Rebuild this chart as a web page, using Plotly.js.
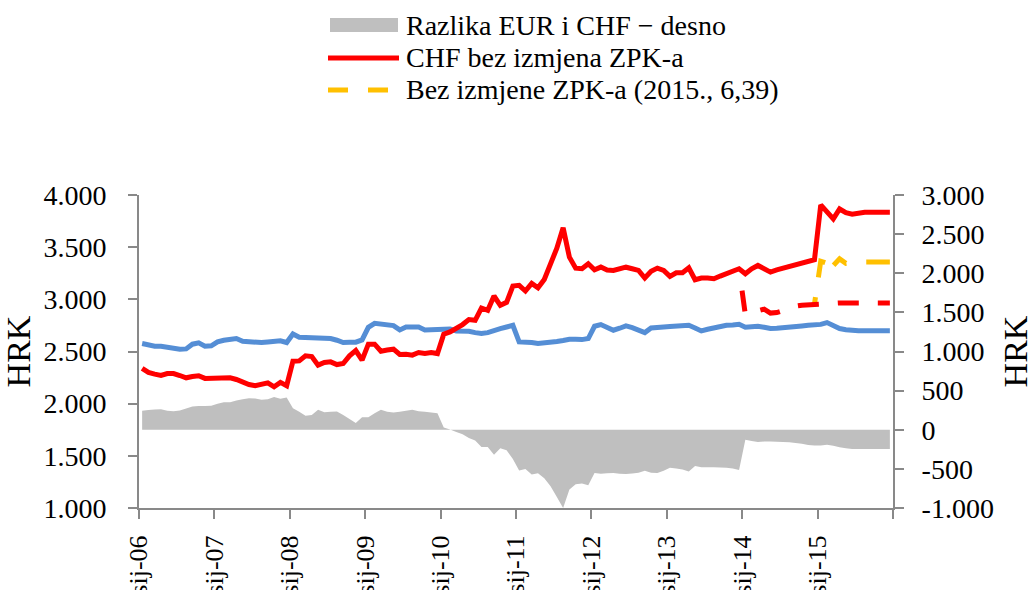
<!DOCTYPE html>
<html>
<head>
<meta charset="utf-8">
<script src="https://cdn.plot.ly/plotly-3.0.1.min.js"></script>
<style>
  html, body { margin: 0; padding: 0; background: #fff; }
  #chart { width: 1034px; height: 590px; }
</style>
</head>
<body>
<div id="chart"></div>
<script>
// ---------- DATA (monthly, sij-06 ... pro-15) ----------
const xLabels = ['sij-06','sij-07','sij-08','sij-09','sij-10','sij-11','sij-12','sij-13','sij-14','sij-15',''];
const xTickPos = [-0.5, 11.5, 23.5, 35.5, 47.5, 59.5, 71.5, 83.5, 95.5, 107.5, 119.5];

const leftTicks = [1000, 1500, 2000, 2500, 3000, 3500, 4000];
const leftTickText = ['1.000', '1.500', '2.000', '2.500', '3.000', '3.500', '4.000'];
const rightTicks = [-1000, -500, 0, 500, 1000, 1500, 2000, 2500, 3000];
const rightTickText = ['-1.000', '-500', '0', '500', '1.000', '1.500', '2.000', '2.500', '3.000'];

// EUR rata (plava linija)
const eurRata = [
  2576, 2560, 2551, 2551, 2541, 2528, 2522, 2525, 2570, 2583, 2551, 2554,
  2592, 2608, 2611, 2624, 2598, 2592, 2583, 2586, 2592, 2595, 2602, 2586,
  2668, 2637, 2633, 2633, 2630, 2627, 2624, 2608, 2586, 2589, 2589, 2611,
  2732, 2770, 2761, 2757, 2748, 2707, 2735, 2735, 2735, 2707, 2710, 2704,
  2707, 2716, 2697, 2697, 2694, 2681, 2672, 2681, 2704, 2719, 2735, 2751,
  2592, 2592, 2586, 2576, 2579, 2589, 2595, 2605, 2618, 2618, 2614, 2624,
  2742, 2758, 2735, 2704, 2723, 2745, 2729, 2710, 2681, 2726, 2735, 2735,
  2739, 2742, 2745, 2751, 2726, 2697, 2713, 2726, 2742, 2751, 2754, 2761,
  2732, 2735, 2742, 2732, 2720, 2723, 2726, 2732, 2739, 2745, 2751, 2755,
  2760, 2777, 2745, 2720, 2708, 2698, 2698, 2698, 2698, 2698, 2698, 2698
];

// CHF bez izmjena ZPK-a (crvena linija)
const chfRata = [
  2338, 2299, 2283, 2270, 2289, 2289, 2270, 2248, 2261, 2267, 2242, 2242,
  2248, 2242, 2248, 2232, 2204, 2184, 2172, 2191, 2200, 2162, 2204, 2172,
  2407, 2410, 2458, 2452, 2369, 2394, 2401, 2375, 2385, 2458, 2509, 2417,
  2570, 2570, 2503, 2515, 2522, 2471, 2474, 2465, 2490, 2480, 2490, 2480,
  2665, 2688, 2720, 2758, 2806, 2799, 2917, 2895, 3032, 2943, 2971, 3127,
  3134, 3080, 3153, 3111, 3191, 3341, 3490, 3685, 3404, 3299, 3293, 3341,
  3284, 3309, 3280, 3277, 3290, 3308, 3293, 3277, 3204, 3268, 3299, 3277,
  3220, 3255, 3255, 3302, 3188, 3204, 3204, 3197, 3223, 3248, 3261, 3293,
  3245, 3293, 3325, 3293, 3261, 3283, 3299, 3315, 3324, 3337, 3355, 3380,
  3905, 3838, 3771, 3866, 3830, 3815, 3830, 3835, 3835, 3835, 3835, 3835
];

// Razlika EUR i CHF - desno (siva povrsina)
const razlika = [
  242, 251, 259, 263, 242, 238, 246, 272, 297, 302, 302, 306,
  331, 352, 352, 374, 391, 403, 399, 382, 391, 420, 395, 412,
  276, 229, 178, 187, 255, 225, 229, 234, 187, 136, 85, 161,
  161, 212, 255, 229, 221, 229, 242, 255, 238, 229, 222, 212,
  28, 4, -30, -59, -106, -136, -221, -221, -319, -238, -263, -374,
  -522, -501, -573, -556, -620, -722, -858, -1000, -764, -697, -688, -709,
  -552, -561, -556, -552, -561, -565, -560, -548, -525, -548, -552, -525,
  -487, -495, -508, -535, -462, -478, -480, -480, -482, -487, -495, -515,
  -127, -144, -157, -149, -149, -153, -157, -161, -170, -178, -195, -200,
  -200, -191, -205, -225, -236, -246, -246, -246, -246, -246, -246, -246
];

// CHF s izmjenama ZPK-a (crvena isprekidana), od pro-13
const chfZpkStart = 95;
const chfZpk = [
  3293, 2853, 2873, 2892, 2906, 2868, 2873, 2892, 2916, 2935, 2944, 2949,
  2954, 2958, 2966, 2966, 2966, 2966, 2966, 2966, 2966, 2966, 2966, 2966, 2966
];

// Bez izmjene ZPK-a (2015., 6,39) (zuta isprekidana), od pro-14
const bezZpkStart = 107;
const bezZpk = [2954, 3365, 3345, 3324, 3388, 3345, 3357, 3357, 3357, 3357, 3357, 3357, 3357];

// ---------- BUILD ----------
const monthIdx = eurRata.map((_, i) => i);
const zpkIdx = chfZpk.map((_, i) => chfZpkStart + i);
const bezIdx = bezZpk.map((_, i) => bezZpkStart + i);

const AXIS = '#898989';
const FONT = 'Liberation Serif, "Times New Roman", Times, serif';

const traces = [
  { x: monthIdx, y: razlika, yaxis: 'y', type: 'scatter', mode: 'none',
    fill: 'tozeroy', fillcolor: '#BFBFBF', hoverinfo: 'skip', name: 'Razlika EUR i CHF − desno' },
  { x: monthIdx, y: eurRata, yaxis: 'y2', type: 'scatter', mode: 'lines',
    line: { color: '#558ED5', width: 5 }, name: 'EUR' },
  { x: bezIdx, y: bezZpk, yaxis: 'y2', type: 'scatter', mode: 'lines',
    line: { color: '#FFC000', width: 5, dash: '7px,20px,21px,9px,17px,20px,40px,20px' },
    name: 'Bez izmjene ZPK-a (2015., 6,39)' },
  { x: zpkIdx, y: chfZpk, yaxis: 'y2', type: 'scatter', mode: 'lines',
    line: { color: '#FF0000', width: 5,
            dash: '0px,22px,21px,19px,21px,19px,21px,19px,21px,19px,21px,19px,21px,19px' },
    name: 'CHF s izmjenama ZPK-a' },
  { x: monthIdx, y: chfRata, yaxis: 'y2', type: 'scatter', mode: 'lines',
    line: { color: '#FF0000', width: 5 }, name: 'CHF bez izmjena ZPK-a' }
];

// plot area in pixels
const L = 139, R = 141, T = 195, B = 82, W = 1034, H = 590;
const pw = W - L - R, ph = H - T - B;
const px = v => (v - L) / pw;
const py = v => (H - B - v) / ph;

const legendItems = [
  { text: 'Razlika EUR i CHF − desno', y: 25 },
  { text: 'CHF bez izmjena ZPK-a', y: 57.5 },
  { text: 'Bez izmjene ZPK-a (2015., 6,39)', y: 90 }
];

const layout = {
  width: W, height: H,
  margin: { l: L, r: R, t: T, b: B, pad: 0 },
  paper_bgcolor: '#ffffff', plot_bgcolor: '#ffffff',
  showlegend: false,
  font: { family: FONT, size: 28, color: '#000000' },
  xaxis: {
    range: [-0.5, 119.5], tickmode: 'array', tickvals: xTickPos, ticktext: xLabels,
    tickangle: -90, ticks: 'outside', ticklen: 9, tickwidth: 2, tickcolor: AXIS,
    tickfont: { family: FONT, size: 26, color: '#000' }, ticklabelstandoff: 6,
    showline: true, linecolor: AXIS, linewidth: 2, showgrid: false, zeroline: false,
    anchor: 'y', fixedrange: true
  },
  yaxis: {
    range: [-1000, 3000], side: 'right', tickmode: 'array',
    tickvals: rightTicks, ticktext: rightTickText,
    ticks: 'outside', ticklen: 9, tickwidth: 2, tickcolor: AXIS,
    showline: true, linecolor: AXIS, linewidth: 2, showgrid: false, zeroline: false,
    ticklabelstandoff: 12,
    title: { text: 'HRK', standoff: 16 }, fixedrange: true
  },
  yaxis2: {
    range: [1000, 4000], overlaying: 'y', side: 'left', tickmode: 'array',
    tickvals: leftTicks, ticktext: leftTickText,
    ticks: 'outside', ticklen: 9, tickwidth: 2, tickcolor: AXIS,
    showline: true, linecolor: AXIS, linewidth: 2, showgrid: false, zeroline: false,
    ticklabelstandoff: 16,
    title: { text: 'HRK', standoff: 12 }, fixedrange: true
  },
  shapes: [
    { type: 'rect', xref: 'paper', yref: 'paper', x0: px(330), x1: px(398), y0: py(32), y1: py(18),
      fillcolor: '#BFBFBF', line: { width: 0 } },
    { type: 'line', xref: 'paper', yref: 'paper', x0: px(328), x1: px(399), y0: py(58), y1: py(58),
      line: { color: '#FF0000', width: 5 } },
    { type: 'line', xref: 'paper', yref: 'paper', x0: px(328), x1: px(399), y0: py(90), y1: py(90),
      line: { color: '#FFC000', width: 5, dash: '20px,20px' } }
  ],
  annotations: legendItems.map(it => ({
    xref: 'paper', yref: 'paper', x: px(404), y: py(it.y), xanchor: 'left', yanchor: 'middle',
    text: it.text, showarrow: false, font: { family: FONT, size: 28, color: '#000' }
  }))
};

Plotly.newPlot('chart', traces, layout, { displayModeBar: false, staticPlot: true });
</script>
</body>
</html>
